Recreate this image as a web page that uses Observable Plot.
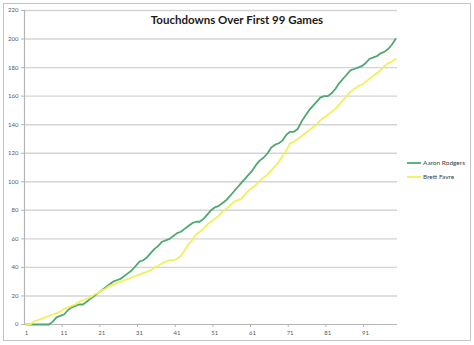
<!DOCTYPE html>
<html>
<head>
<meta charset="utf-8">
<script src="https://cdn.jsdelivr.net/npm/d3@7"></script>
<script src="https://cdn.jsdelivr.net/npm/@observablehq/plot@0.6"></script>
<style>
  html, body { margin: 0; padding: 0; background: #fff; }
  svg { display: block; }
</style>
</head>
<body>
<div id="chart"></div>
<script>
const title = "Touchdowns Over First 99 Games";
const players = ["Aaron Rodgers", "Brett Favre"];
const playerColors = ["#4fa873", "#eef25a"];
const xTickLabels = [1, 11, 21, 31, 41, 51, 61, 71, 81, 91];
const yTicks = [0, 20, 40, 60, 80, 100, 120, 140, 160, 180, 200, 220];

const rodgers = [
  0, 0, 0, 0, 0, 0, 0, 2, 5, 6,
  7, 10, 12, 13, 14, 14, 16, 18, 20, 22,
  24, 26, 28, 30, 31, 32, 34, 36, 38, 41,
  44, 45, 47, 50, 53, 55, 58, 59, 60, 62,
  64, 65, 67, 69, 71, 72, 72, 74, 77, 80,
  82, 83, 85, 87, 90, 93, 96, 99, 102, 105,
  108, 112, 115, 117, 120, 124, 126, 127, 129, 133,
  135, 135, 137, 142, 146, 150, 153, 156, 159, 160,
  160, 162, 165, 169, 172, 175, 178, 179, 180, 181,
  183, 186, 187, 188, 190, 191, 193, 196, 200
];
const favre = [
  0, 0, 2, 3, 4, 5, 6, 7, 8, 9,
  11, 12, 13, 14, 16, 17, 18, 19, 21, 22,
  24, 25, 27, 28, 29, 30, 31, 32, 33, 34,
  35, 36, 37, 38, 40, 41, 43, 44, 45, 45,
  46, 48, 52, 56, 59, 63, 65, 67, 70, 72,
  74, 76, 79, 81, 83, 86, 87, 88, 91, 94,
  96, 98, 101, 103, 105, 108, 111, 114, 118, 122,
  127, 128, 130, 132, 134, 136, 138, 140, 143, 145,
  147, 149, 151, 154, 157, 160, 163, 165, 167, 168,
  170, 172, 174, 176, 178, 181, 183, 184, 186
];

const data = [];
[rodgers, favre].forEach((arr, i) => {
  arr.forEach((v, j) => data.push({game: j + 1, td: v, player: players[i]}));
});
const nGames = rodgers.length;
const tickMarks = xTickLabels.map(d => d - 0.5).filter(d => d > 1);

const axisGray = "#b5b5b5";
const gridGray = "#d4d4d4";
const labelColor = "#595959";
const font = "Lato, 'Open Sans', sans-serif";

const chart = Plot.plot({
  width: 474,
  height: 345,
  marginLeft: 24,
  marginRight: 77,
  marginTop: 10,
  marginBottom: 21,
  style: {background: "#fff", fontFamily: font, fontSize: "6px", color: labelColor},
  x: {domain: [0.5, nGames + 0.5], label: null},
  y: {domain: [0, 220], label: null},
  color: {domain: players, range: playerColors},
  marks: [
    Plot.gridY(yTicks.filter(d => d > 0), {stroke: gridGray, strokeOpacity: 1, strokeWidth: 1.4}),
    Plot.ruleX([0.5], {stroke: axisGray, strokeWidth: 1.2}),
    Plot.ruleY([0], {stroke: axisGray, strokeWidth: 1.2}),
    Plot.axisY({ticks: yTicks, tickSize: 3, tickPadding: 3, stroke: axisGray, fill: labelColor, label: null}),
    Plot.axisX({ticks: xTickLabels, tickSize: 0, tickPadding: 6, fill: labelColor, label: null}),
    Plot.axisX({ticks: tickMarks, tickSize: 3, tickFormat: () => "", stroke: axisGray, label: null}),
    Plot.line(data, {x: "game", y: "td", stroke: "player", z: "player", strokeWidth: 1.8, curve: "linear"})
  ]
});

const svg = d3.select(chart);
// outer frame
svg.insert("rect", ":first-child")
  .attr("x", 3.5).attr("y", 3.5).attr("width", 467).attr("height", 337)
  .attr("fill", "none").attr("stroke", "#c4c4c4").attr("stroke-width", 1);
// title
svg.append("text")
  .attr("x", 237).attr("y", 24)
  .attr("text-anchor", "middle")
  .attr("font-family", font)
  .attr("font-weight", "bold")
  .attr("font-size", 11.5)
  .attr("fill", "#1a1a1a")
  .text(title);
// legend
const lg = svg.append("g").attr("font-family", font).attr("font-size", 6.5)
  .attr("fill", "#404040").attr("text-anchor", "start");
players.forEach((p, i) => {
  const y = 163 + i * 14;
  lg.append("line").attr("x1", 407).attr("x2", 421).attr("y1", y).attr("y2", y)
    .attr("stroke", playerColors[i]).attr("stroke-width", 1.8);
  lg.append("text").attr("x", 423).attr("y", y).attr("dy", "0.35em").text(p);
});

document.getElementById("chart").appendChild(chart);
</script>
</body>
</html>
